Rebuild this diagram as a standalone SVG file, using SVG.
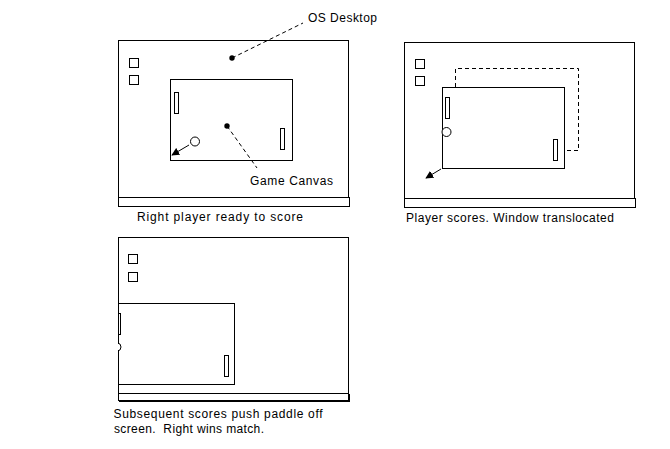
<svg xmlns="http://www.w3.org/2000/svg" width="670" height="449" viewBox="0 0 670 449">
<style>
.box{fill:none;stroke:#000;stroke-width:1;shape-rendering:crispEdges}
.ln{stroke:#000;stroke-width:1;shape-rendering:crispEdges}
.dash{fill:none;stroke:#000;stroke-width:1;stroke-dasharray:4 3}
.ball{fill:#fff;stroke:#000;stroke-width:1}
.arr{fill:none;stroke:#000;stroke-width:1;marker-end:url(#ah)}
.dot{fill:#000}
text{font-family:"Liberation Sans",Arial,sans-serif;font-size:12px;fill:#000;white-space:pre}
</style>
<defs>
<marker id="ah" viewBox="0 0 10 10" refX="9" refY="5" markerWidth="8" markerHeight="8" markerUnits="userSpaceOnUse" orient="auto">
<path d="M0,0 L10,5 L0,10 z" fill="#000"/>
</marker>
<clipPath id="c3"><rect x="118" y="237" width="231" height="157"/></clipPath>
</defs>
<rect width="670" height="449" fill="#fff"/>
<g id="panel1">
<rect class="box" x="118.5" y="40.5" width="230" height="157"/>
<rect class="box" x="118.5" y="197.5" width="231" height="9"/>
<rect class="box" x="129.5" y="58.5" width="9" height="9"/>
<rect class="box" x="129.5" y="75.5" width="9" height="9"/>
<g id="canvas1">
<rect class="box" x="170.5" y="79.5" width="122" height="81"/>
<rect class="box" x="174.5" y="92.5" width="4" height="21"/>
<rect class="box" x="280.5" y="128.5" width="4" height="21"/>
<circle class="ball" cx="195" cy="141.5" r="4.5"/>
</g>
<text x="308" y="22" textLength="69" lengthAdjust="spacing">OS Desktop</text>
<text x="250" y="184.5" textLength="83" lengthAdjust="spacing">Game Canvas</text>
<text x="137" y="221" textLength="166" lengthAdjust="spacing">Right player ready to score</text>
</g>
<g id="panel2">
<rect class="box" x="404.5" y="42.5" width="230" height="156"/>
<rect class="box" x="404.5" y="198.5" width="231" height="9"/>
<rect class="box" x="415.5" y="59.5" width="9" height="9"/>
<rect class="box" x="415.5" y="76.5" width="9" height="9"/>
<polyline class="dash" points="455.5,87 455.5,68.5 578.5,68.5 578.5,150.5 564,150.5"/>
<g id="canvas2">
<rect class="box" x="442.5" y="87.5" width="122" height="81"/>
<rect class="box" x="445.5" y="97.5" width="4" height="21"/>
<rect class="box" x="553.5" y="139.5" width="4" height="21"/>
<circle class="ball" cx="446.5" cy="132" r="4.5"/>
</g>
<text x="406" y="222" textLength="208" lengthAdjust="spacing">Player scores. Window translocated</text>
</g>
<g id="panel3">
<rect class="box" x="118.5" y="237.5" width="230" height="156"/>
<rect class="box" x="118.5" y="393.5" width="230" height="7"/>
<line class="ln" x1="119" y1="401.5" x2="350" y2="401.5"/>
<line class="ln" x1="349.5" y1="394" x2="349.5" y2="402"/>
<rect class="box" x="128.5" y="254.5" width="9" height="9"/>
<rect class="box" x="128.5" y="272.5" width="9" height="9"/>
<g id="canvas3" clip-path="url(#c3)">
<rect class="box" x="117.5" y="303.5" width="117" height="81"/>
<rect class="box" x="116.5" y="313.5" width="4" height="21"/>
<circle class="ball" cx="117" cy="347" r="4"/>
<rect class="box" x="224.5" y="355.5" width="4" height="21"/>
</g>
<text x="113.5" y="418" textLength="209" lengthAdjust="spacing">Subsequent scores push paddle off</text>
<text x="114" y="433" textLength="150" lengthAdjust="spacing">screen.  Right wins match.</text>
</g>
<g id="connectors">
<circle class="dot" cx="232" cy="58" r="2.7"/>
<line class="dash" x1="232" y1="58" x2="303" y2="23"/>
<circle class="dot" cx="227" cy="126" r="2.7"/>
<line class="dash" x1="227" y1="126" x2="257" y2="168"/>
<line class="arr" x1="189" y1="145" x2="172" y2="155"/>
<line class="arr" x1="441" y1="169" x2="426" y2="178"/>
</g>
</svg>
